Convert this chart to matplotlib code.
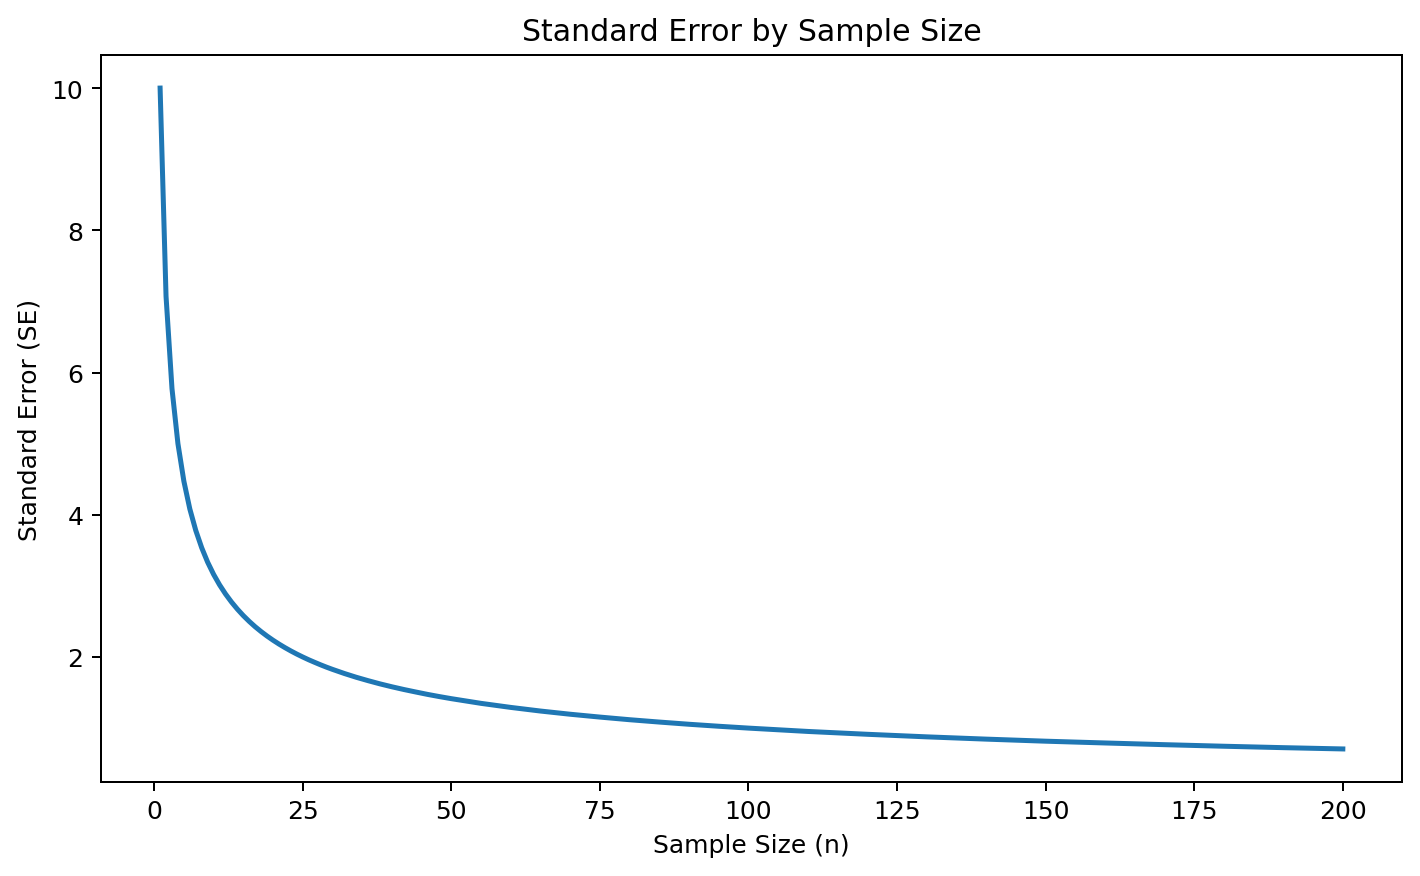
import numpy as np
import matplotlib.pyplot as plt

# sample sizes and the standard error
sample_size = [1, 2, 3, 4, 5, 6, 7, 8, 9, 10,
               11, 12, 13, 14, 15, 16, 17, 18, 19, 20,
               21, 22, 23, 24, 25, 26, 27, 28, 29, 30,
               32, 34, 36, 38, 40, 42, 44, 46, 48, 50,
               55, 60, 65, 70, 75, 80, 85, 90, 95, 100,
               110, 120, 130, 140, 150, 160, 170, 180, 190, 200]
std_error = [10.0, 7.071, 5.774, 5.0, 4.472, 4.082, 3.780, 3.536, 3.333, 3.162,
             3.015, 2.887, 2.774, 2.673, 2.582, 2.5, 2.425, 2.357, 2.294, 2.236,
             2.182, 2.132, 2.085, 2.041, 2.0, 1.961, 1.925, 1.890, 1.857, 1.826,
             1.768, 1.715, 1.667, 1.622, 1.581, 1.543, 1.508, 1.474, 1.443, 1.414,
             1.348, 1.291, 1.240, 1.195, 1.155, 1.118, 1.085, 1.054, 1.026, 1.0,
             0.953, 0.913, 0.877, 0.845, 0.816, 0.791, 0.767, 0.745, 0.725, 0.707]

dpi = 180
fig = plt.figure(figsize=(1420 / dpi, 877 / dpi), dpi=dpi)
ax = fig.add_axes([0.0711, 0.1072, 0.9162, 0.8289])
ax.plot(sample_size, std_error, color="#1f77b4", linewidth=2)
ax.set_title("Standard Error by Sample Size")
ax.set_xlabel("Sample Size (n)")
ax.set_ylabel("Standard Error (SE)")
ax.set_xticks([0, 25, 50, 75, 100, 125, 150, 175, 200])
ax.set_yticks([2, 4, 6, 8, 10])

fig.savefig("out.png", dpi=dpi)
